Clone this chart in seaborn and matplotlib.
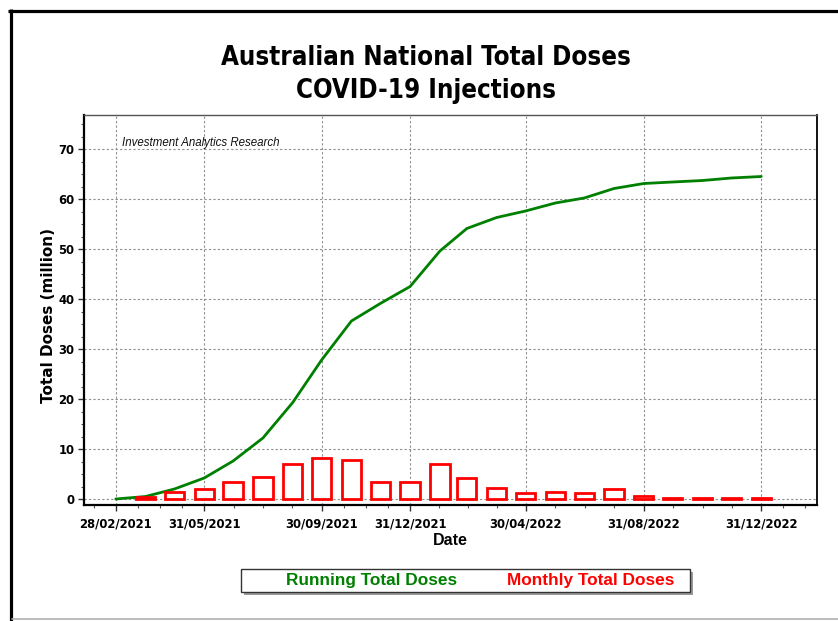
import matplotlib
matplotlib.use("Agg")
import matplotlib.pyplot as plt
import matplotlib.dates as mdates
from matplotlib.patches import Rectangle
from matplotlib.lines import Line2D
from matplotlib.ticker import MultipleLocator, FixedLocator
import seaborn as sns
import pandas as pd

# ---------------- data ----------------
line_dates = ["2021-02-28", "2021-03-31", "2021-04-30", "2021-05-31", "2021-06-30",
              "2021-07-31", "2021-08-31", "2021-09-30", "2021-10-31", "2021-11-30",
              "2021-12-31", "2022-01-31", "2022-02-28", "2022-03-31", "2022-04-30",
              "2022-05-31", "2022-06-30", "2022-07-31", "2022-08-31", "2022-09-30",
              "2022-10-31", "2022-11-30", "2022-12-31"]
running_total = [0.0, 0.5, 2.0, 4.2, 7.6, 12.2, 19.3, 27.8, 35.6, 39.1, 42.5, 49.6,
                 54.1, 56.3, 57.6, 59.2, 60.2, 62.1, 63.1, 63.4, 63.7, 64.2, 64.5]

bar_dates = line_dates[1:]
monthly_total = [0.5, 1.5, 2.0, 3.4, 4.4, 7.1, 8.3, 7.8, 3.5, 3.4, 7.1, 4.3,
                 2.3, 1.3, 1.4, 1.2, 2.0, 0.7, 0.2, 0.3, 0.3, 0.2]

major_tick_dates = ["2021-02-28", "2021-05-31", "2021-09-30", "2021-12-31",
                    "2022-04-30", "2022-08-31", "2022-12-31"]

title_lines = ["Australian National Total Doses", "COVID-19 Injections"]
legend_labels = ["Running Total Doses", "Monthly Total Doses"]

# ---------------- style ----------------
sns.set_theme(style="white")
plt.rcParams["font.family"] = ["DejaVu Sans"]

W, H = 838, 621
fig = plt.figure(figsize=(W / 100, H / 100), dpi=100)
fig.patch.set_facecolor("white")

L, R, T, B = 84, 817, 115, 505
ax = fig.add_axes([L / W, 1 - B / H, (R - L) / W, (B - T) / H])
ax.set_facecolor("white")

GREEN = "#008000"
RED = "#ff0000"

df_line = pd.DataFrame({"date": mdates.date2num(pd.to_datetime(line_dates)),
                        "total": running_total})
sns.lineplot(data=df_line, x="date", y="total", color=GREEN, linewidth=2.0,
             ax=ax, zorder=3)

bx = mdates.date2num(pd.to_datetime(bar_dates))
ax.bar(bx, monthly_total, width=20, facecolor="white", edgecolor=RED,
       linewidth=2.0, zorder=4)

# axes limits
ax.set_xlim(mdates.date2num(pd.Timestamp("2021-01-26")),
            mdates.date2num(pd.Timestamp("2023-02-27")))
ax.set_ylim(-1.2, 76.8)

# ticks
majors = list(mdates.date2num(pd.to_datetime(major_tick_dates)))
ax.xaxis.set_major_locator(FixedLocator(majors))
ax.xaxis.set_major_formatter(mdates.DateFormatter("%d/%m/%Y"))
minors = [majors[0] - 23]
for a, b in zip(majors[:-1], majors[1:]):
    step = (b - a) / 4
    minors += [a + step * k for k in (1, 2, 3)]
minors += [majors[-1] + 23, majors[-1] + 46]
ax.xaxis.set_minor_locator(FixedLocator(minors))

ax.yaxis.set_major_locator(MultipleLocator(10))
ax.yaxis.set_minor_locator(MultipleLocator(2.5))

ax.tick_params(axis="both", which="major", direction="out", length=4, width=1,
               color="#333333", labelsize=8.4, pad=3)
ax.tick_params(axis="both", which="minor", direction="out", length=2.5, width=0.8,
               color="#555555")
ax.tick_params(axis="x", which="major", pad=5)
ax.tick_params(left=True, bottom=True, which="both")
for lab in ax.get_xticklabels() + ax.get_yticklabels():
    lab.set_fontweight("bold")
    lab.set_color("black")

ax.grid(True, which="major", color="#8c8c8c", linestyle=(0, (2, 2)), linewidth=0.8)
ax.set_axisbelow(True)

for side in ["left", "bottom"]:
    ax.spines[side].set_color("black")
    ax.spines[side].set_linewidth(1.6)
ax.spines["right"].set_color("black")
ax.spines["right"].set_linewidth(1.3)
ax.spines["top"].set_color("#555555")
ax.spines["top"].set_linewidth(1.0)

ax.set_xlabel("Date", fontsize=11.5, fontweight="bold", family="Liberation Sans",
              color="black")
ax.xaxis.set_label_coords(0.5, -0.072)
ax.xaxis.label.set_verticalalignment("top")
ax.set_ylabel("Total Doses (million)", fontsize=11, fontweight="bold",
              color="black")
ax.yaxis.set_label_coords(-0.038, 0.487)

ax.text(0.052, 0.928, "Investment Analytics Research", transform=ax.transAxes,
        fontsize=8.3, style="italic", family="Liberation Sans", va="center",
        ha="left", color="#111111")

# title
fig.text(0.508, 1 - 65 / H, title_lines[0], ha="center", va="baseline",
         fontsize=18.5, fontweight="bold", fontstretch="condensed", color="black")
fig.text(0.508, 1 - 98 / H, title_lines[1], ha="center", va="baseline",
         fontsize=18.5, fontweight="bold", fontstretch="condensed", color="black")

# outer frame
fig.add_artist(Line2D([8 / W, 1], [1 - 10.5 / H, 1 - 10.5 / H], color="black",
                      linewidth=2.3, transform=fig.transFigure,
                      solid_capstyle="butt"))
fig.add_artist(Line2D([10.5 / W, 10.5 / W], [1 - 9 / H, 0], color="black",
                      linewidth=2.3, transform=fig.transFigure,
                      solid_capstyle="butt"))
fig.add_artist(Line2D([12 / W, 1], [1 - 618.7 / H, 1 - 618.7 / H], color="#b0b0b0",
                      linewidth=1.2, transform=fig.transFigure))

# legend box
lx0, lx1, ly0, ly1 = 241, 690, 569, 592
fig.add_artist(Rectangle(((lx0 + 3) / W, 1 - (ly1 + 3) / H), (lx1 - lx0) / W,
                         (ly1 - ly0) / H, transform=fig.transFigure,
                         facecolor="#9a9a9a", edgecolor="none"))
fig.add_artist(Rectangle((lx0 / W, 1 - ly1 / H), (lx1 - lx0) / W, (ly1 - ly0) / H,
                         transform=fig.transFigure, facecolor="white",
                         edgecolor="#333333", linewidth=1.0))
fig.text(286 / W, 1 - 580.5 / H, legend_labels[0], ha="left", va="center",
         fontsize=12.4, fontweight="bold", family="Liberation Sans", color=GREEN)
fig.text(507 / W, 1 - 580.5 / H, legend_labels[1], ha="left", va="center",
         fontsize=12.4, fontweight="bold", family="Liberation Sans", color=RED)

fig.savefig("out.png", dpi=100, facecolor="white")
